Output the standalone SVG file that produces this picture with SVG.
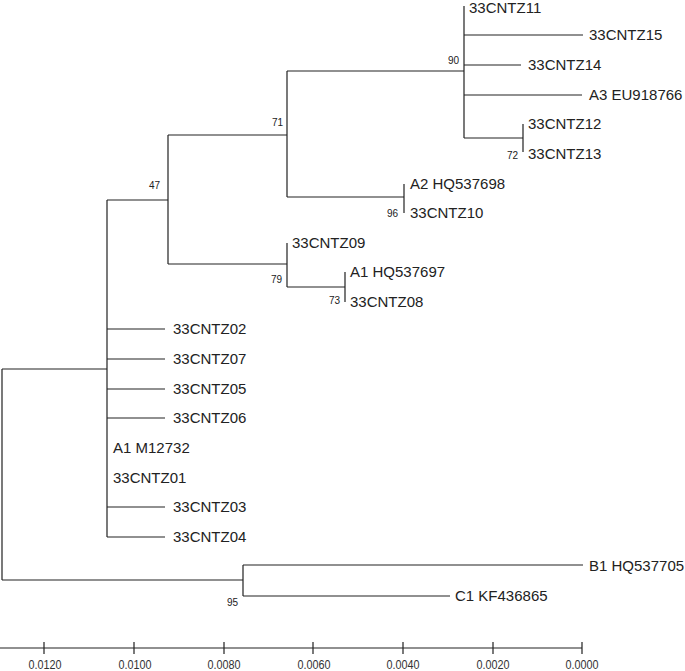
<svg xmlns="http://www.w3.org/2000/svg" width="685" height="671" viewBox="0 0 685 671">
<style>
.b{stroke:#222;stroke-width:1.2;fill:none}
.l{font-family:"Liberation Sans",Arial,sans-serif;font-size:15px;fill:#222}
.s{font-family:"Liberation Sans",Arial,sans-serif;font-size:10px;fill:#222;text-anchor:end}
.a{font-family:"Liberation Sans",Arial,sans-serif;font-size:13px;fill:#333;text-anchor:middle}
</style>
<rect width="685" height="671" fill="#fff"/>
<g id="connectors" class="b">
<path d="M2,369V580M2,369H107M2,580H243"/>
<path d="M243,565V596M243,565H583M243,596H450"/>
<path d="M107,200V537M107,200H168M107,329H165M107,359H165M107,389H165M107,418H165M107,507H165M107,537H165"/>
<path d="M168,135V264M168,135H287M168,264H287"/>
<path d="M287,71V197M287,71H464M287,197H404"/>
<path d="M404,184V213"/>
<path d="M287,243V287M287,287H345M345,272V302"/>
<path d="M464,6V138M464,35H583M464,65H521M464,95H582M464,138H523M523,124V152"/>
<path d="M0,648H582M44,642V654M134,642V654M224,642V654M313,642V654M403,642V654M493,642V654M582,642V654"/>
</g>
<g id="n_Z11"><text class="l" x="469" y="12.5">33CNTZ11</text></g>
<g id="n_Z15"><text class="l" x="589" y="40">33CNTZ15</text></g>
<g id="n_Z14"><text class="l" x="528" y="70">33CNTZ14</text></g>
<g id="n_A3"><text class="l" x="589" y="100">A3 EU918766</text></g>
<g id="n_Z12"><text class="l" x="528" y="129">33CNTZ12</text></g>
<g id="n_Z13"><text class="l" x="528" y="159">33CNTZ13</text></g>
<g id="n_A2"><text class="l" x="410" y="189">A2 HQ537698</text></g>
<g id="n_Z10"><text class="l" x="410" y="218">33CNTZ10</text></g>
<g id="n_Z09"><text class="l" x="292" y="248">33CNTZ09</text></g>
<g id="n_A1HQ"><text class="l" x="350" y="277">A1 HQ537697</text></g>
<g id="n_Z08"><text class="l" x="350" y="307">33CNTZ08</text></g>
<g id="n_Z02"><text class="l" x="173" y="334">33CNTZ02</text></g>
<g id="n_Z07"><text class="l" x="173" y="364">33CNTZ07</text></g>
<g id="n_Z05"><text class="l" x="173" y="394">33CNTZ05</text></g>
<g id="n_Z06"><text class="l" x="173" y="423">33CNTZ06</text></g>
<g id="n_A1M"><text class="l" x="113" y="453">A1 M12732</text></g>
<g id="n_Z01"><text class="l" x="113" y="483">33CNTZ01</text></g>
<g id="n_Z03"><text class="l" x="173" y="512">33CNTZ03</text></g>
<g id="n_Z04"><text class="l" x="173" y="542">33CNTZ04</text></g>
<g id="n_B1"><text class="l" x="589" y="571">B1 HQ537705</text></g>
<g id="n_C1"><text class="l" x="455" y="601">C1 KF436865</text></g>
<g id="bootstrap">
<text class="s" x="459" y="64">90</text>
<text class="s" x="518" y="159">72</text>
<text class="s" x="283" y="126">71</text>
<text class="s" x="398" y="217">96</text>
<text class="s" x="160" y="189">47</text>
<text class="s" x="282" y="283">79</text>
<text class="s" x="340" y="304">73</text>
<text class="s" x="238" y="606">95</text>
</g>
<g id="axis">
<text class="a" x="45" y="669" textLength="33" lengthAdjust="spacingAndGlyphs">0.0120</text>
<text class="a" x="135" y="669" textLength="33" lengthAdjust="spacingAndGlyphs">0.0100</text>
<text class="a" x="224" y="669" textLength="33" lengthAdjust="spacingAndGlyphs">0.0080</text>
<text class="a" x="314" y="669" textLength="33" lengthAdjust="spacingAndGlyphs">0.0060</text>
<text class="a" x="403" y="669" textLength="33" lengthAdjust="spacingAndGlyphs">0.0040</text>
<text class="a" x="493" y="669" textLength="33" lengthAdjust="spacingAndGlyphs">0.0020</text>
<text class="a" x="582" y="669" textLength="33" lengthAdjust="spacingAndGlyphs">0.0000</text>
</g>
</svg>
